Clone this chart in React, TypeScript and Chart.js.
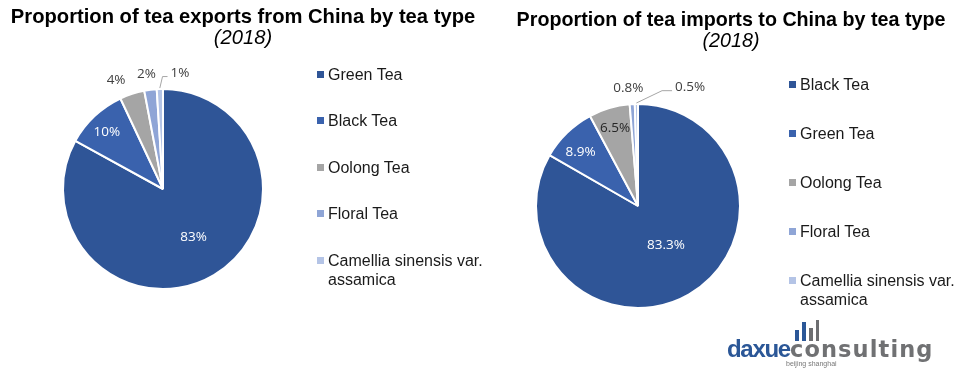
import React, { useEffect, useRef } from "react";
import { Chart, registerables } from "chart.js";

Chart.register(...registerables);

// ---------------- data ----------------
const exportCategories = ["Green Tea", "Black Tea", "Oolong Tea", "Floral Tea", "Camellia sinensis var. assamica"];
const exportShares = [83, 10, 4, 2, 1];

const importCategories = ["Black Tea", "Green Tea", "Oolong Tea", "Floral Tea", "Camellia sinensis var. assamica"];
const importShares = [83.3, 8.9, 6.5, 0.8, 0.5];

const exportTitle = "Proportion of tea exports from China by tea type";
const importTitle = "Proportion of tea imports to China by tea type";
const yearLabel = "(2018)";

// ---------------- styles ----------------
const sliceColors = ["#2F5597", "#3A62AD", "#A5A5A5", "#8FA5D6", "#B4C4E6"];
const DARK = "#404040";
const WHITE = "#FFFFFF";

type Placement = { r: number; dx: number; dy: number; color: string; leader?: number };

const exportPlacements: Placement[] = [
  { r: 0.56, dx: 2, dy: 0, color: WHITE },
  { r: 0.79, dx: -2, dy: 1, color: WHITE },
  { r: 1.13, dx: -12, dy: -1, color: DARK },
  { r: 1.16, dx: -2, dy: 0, color: DARK },
  { r: 1.16, dx: 20.6, dy: 0, color: DARK, leader: 5 },
];
const importPlacements: Placement[] = [
  { r: 0.47, dx: 4, dy: -2, color: WHITE },
  { r: 0.773, dx: -2.6, dy: 2.7, color: WHITE },
  { r: 0.8, dx: 0, dy: 0, color: "#262626" },
  { r: 1.16, dx: -3, dy: 0, color: DARK },
  { r: 1.165, dx: 54, dy: 0, color: DARK, leader: 10 },
];

const sliceLabelPlugin = {
  id: "sliceLabels",
  afterDatasetsDraw(chart: any, _args: any, opts: any) {
    const ctx = chart.ctx;
    const meta = chart.getDatasetMeta(0);
    const values = chart.data.datasets[0].data;
    ctx.save();
    ctx.font = '13.5px "Open Sans"';
    ctx.textAlign = "center";
    ctx.textBaseline = "middle";
    meta.data.forEach((arc: any, i: number) => {
      const p = arc.getProps(["x", "y", "startAngle", "endAngle", "outerRadius"], true);
      const pl: Placement = opts.placements[i];
      const mid = (p.startAngle + p.endAngle) / 2;
      const cx = p.x + Math.cos(mid) * p.outerRadius * pl.r + pl.dx;
      const cy = p.y + Math.sin(mid) * p.outerRadius * pl.r + pl.dy;
      const text = opts.format(values[i]);
      if (pl.leader) {
        const w = ctx.measureText(text).width;
        const left = cx - w / 2;
        const sx = p.x + Math.cos(mid) * (p.outerRadius + 1);
        const sy = p.y + Math.sin(mid) * (p.outerRadius + 1);
        ctx.strokeStyle = "#A6A6A6";
        ctx.lineWidth = 1;
        ctx.beginPath();
        ctx.moveTo(sx, sy);
        ctx.lineTo(left - 3 - pl.leader, cy + 3.5);
        ctx.lineTo(left - 3, cy + 3.5);
        ctx.stroke();
      }
      ctx.fillStyle = pl.color;
      ctx.fillText(text, cx, cy);
    });
    ctx.restore();
  },
};

type PieProps = {
  values: number[];
  labels: string[];
  padding: { left: number; right: number; top: number; bottom: number };
  placements: Placement[];
  format: (v: number) => string;
};

function PieCanvas({ values, labels, padding, placements, format }: PieProps) {
  const ref = useRef<HTMLCanvasElement>(null);
  useEffect(() => {
    if (!ref.current) return;
    const chart = new Chart(ref.current, {
      type: "pie",
      data: {
        labels,
        datasets: [
          {
            data: values,
            backgroundColor: sliceColors,
            borderColor: "#FFFFFF",
            borderWidth: 2,
            hoverOffset: 0,
          },
        ],
      },
      options: {
        responsive: false,
        animation: false,
        devicePixelRatio: 1,
        events: [],
        layout: { padding },
        plugins: {
          legend: { display: false },
          tooltip: { enabled: false },
          sliceLabels: { placements, format },
        } as any,
      },
      plugins: [sliceLabelPlugin],
    });
    return () => chart.destroy();
  }, []);
  return <canvas ref={ref} width={485} height={386} style={{ width: 485, height: 386, display: "block" }} />;
}

function Legend({ labels, left, top, spacing }: { labels: string[]; left: number; top: number; spacing: number }) {
  return (
    <>
      {labels.map((l, i) => (
        <div key={l} style={{ position: "absolute", left, top: top + i * spacing, display: "flex", alignItems: "flex-start" }}>
          <div style={{ width: 7, height: 7, background: sliceColors[i], marginTop: 6, marginRight: 4 }} />
          <div style={{ width: 165, font: '16px "Liberation Sans", Arial, sans-serif', lineHeight: "19px", color: "#1A1A1A" }}>{l}</div>
        </div>
      ))}
    </>
  );
}

function Title({ text, sub, center, top, size, subTop }: { text: string; sub: string; center: number; top: number; size: number; subTop: number }) {
  return (
    <>
      <div style={{ position: "absolute", left: center - 300, width: 600, top, textAlign: "center", font: `bold ${size}px "Liberation Sans", Arial, sans-serif`, lineHeight: `${size}px`, color: "#000", whiteSpace: "nowrap" }}>{text}</div>
      <div style={{ position: "absolute", left: center - 300, width: 600, top: subTop, textAlign: "center", font: `italic ${size}px "Liberation Sans", Arial, sans-serif`, lineHeight: `${size}px`, color: "#000" }}>{sub}</div>
    </>
  );
}

function Logo() {
  const bars = [
    { x: 795, h: 11, c: "#2B5797" },
    { x: 802, h: 19, c: "#2B5797" },
    { x: 809, h: 13, c: "#6D6E71" },
    { x: 815.5, h: 21, c: "#6D6E71" },
  ];
  return (
    <>
      {bars.map((b, i) => (
        <div key={i} style={{ position: "absolute", left: b.x, top: 341 - b.h, width: 3.5, height: b.h, background: b.c }} />
      ))}
      <div style={{ position: "absolute", left: 727, top: 336, font: 'bold 24px "Liberation Sans", Arial, sans-serif', lineHeight: "26px", whiteSpace: "nowrap", color: "#2B5797", letterSpacing: -1.3 }}>daxue</div>
      <div style={{ position: "absolute", left: 790, top: 336, font: 'bold 22.5px "DejaVu Sans", sans-serif', lineHeight: "26px", whiteSpace: "nowrap", color: "#707173", letterSpacing: 1.1 }}>consulting</div>
      <div style={{ position: "absolute", left: 786, top: 360, font: '7px "Liberation Sans", Arial, sans-serif', color: "#777" }}>beijing shanghai</div>
    </>
  );
}

export default function App() {
  return (
    <div style={{ position: "absolute", left: 0, top: 0, width: 970, height: 386, background: "#fff", overflow: "hidden" }}>
      <div style={{ position: "absolute", left: 0, top: 0 }}>
        <PieCanvas
          values={exportShares}
          labels={exportCategories}
          padding={{ left: 62, right: 221, top: 88, bottom: 96 }}
          placements={exportPlacements}
          format={(v) => `${v}%`}
        />
      </div>
      <div style={{ position: "absolute", left: 485, top: 0 }}>
        <PieCanvas
          values={importShares}
          labels={importCategories}
          padding={{ left: 50, right: 229, top: 103, bottom: 77 }}
          placements={importPlacements}
          format={(v) => `${v.toFixed(1)}%`}
        />
      </div>
      <Title text={exportTitle} sub={yearLabel} center={243} top={5.6} size={20.2} subTop={27} />
      <Title text={importTitle} sub={yearLabel} center={731} top={10.4} size={19.7} subTop={30.5} />
      <Legend labels={exportCategories} left={317} top={64.5} spacing={46.5} />
      <Legend labels={importCategories} left={789} top={74.5} spacing={49} />
      <Logo />
    </div>
  );
}
